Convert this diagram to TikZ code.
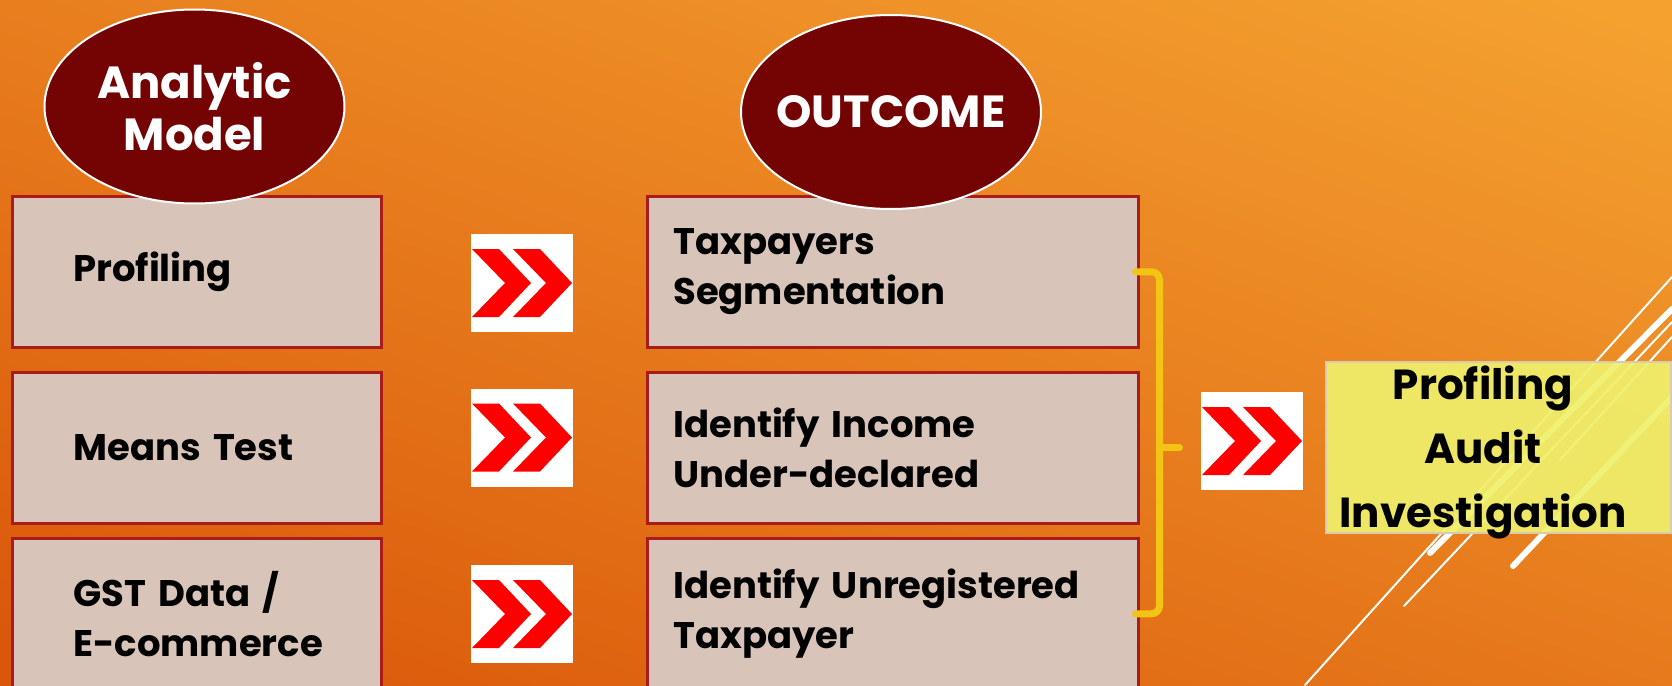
\documentclass[tikz,border=0pt]{standalone}
\usepackage{fontspec}
\setmainfont{Poppins}
\usetikzlibrary{shapes.geometric}
\usepackage{xcolor}
\definecolor{bgtop}{HTML}{F4A130}
\definecolor{bgbot}{HTML}{DA570A}
\definecolor{cellfill}{HTML}{D8C4B9}
\definecolor{cellline}{HTML}{A81C1C}
\definecolor{ovalfill}{HTML}{740404}
\definecolor{resfill}{HTML}{EFF06C}
\definecolor{resline}{HTML}{D8CBB0}
\definecolor{brackcol}{HTML}{F4C414}
\definecolor{chevred}{HTML}{FF0000}

\tikzset{
 cell/.style={rectangle, draw=cellline, line width=2.5pt, fill=cellfill, anchor=north west,
  minimum height=151pt, inner sep=0pt, align=left, font=\fontsize{37}{50}\selectfont\bfseries},
 modelcell/.style={cell, text width=369pt, execute at begin node={\leftskip=61pt}},
 outcell/.style={cell, text width=491pt, execute at begin node={\leftskip=26pt}},
 oval/.style={ellipse, fill=ovalfill, draw=white, line width=2pt, minimum width=300pt,
  minimum height=194pt, inner xsep=-14pt, inner ysep=0pt, text=white, align=center,
  font=\fontsize{45}{52}\selectfont\bfseries},
 chevsign/.style={rectangle, fill=white, minimum width=102pt, minimum height=98pt, inner sep=0pt,
  path picture={\fill[chevred, shift={(path picture bounding box.center)}]
   (-50,-34) -- (-23,-34) -- (9,0) -- (-23,34) -- (-50,34) -- (-17,0) -- cycle
   (-9,-34) -- (18,-34) -- (50,0) -- (18,34) -- (-9,34) -- (24,0) -- cycle;}},
 brack/.style={draw=brackcol, line width=7pt, line cap=round, rounded corners=8pt},
 deco/.style={white, line width=2pt, line cap=round},
 resbox/.style={fill=resfill, fill opacity=0.92, draw=resline, line width=2.5pt},
 restext/.style={align=center, inner sep=0pt, text depth=0pt, anchor=south, font=\fontsize{42}{64}\selectfont\bfseries}
}

\begin{document}
\begin{tikzpicture}[x=1pt, y=-1pt]
\useasboundingbox (0,0) rectangle (1672,685);
\clip (0,0) rectangle (1672,685);
\shade[top color=bgtop, bottom color=bgbot, shading angle=-20] (-100,-100) rectangle (1772,785);

\draw[deco] (1672,277) -- (1305,685);
\draw[deco, line width=6pt] (1672,309) -- (1430,553);
\draw[deco] (1672,322) -- (1404,606);
\draw[deco] (1672,337) -- (1560,460);
\draw[deco, line width=6pt] (1672,397) -- (1513,566);

\foreach \y/\cy/\mtext/\otext [count=\i] in {195/283/Profiling/{Taxpayers\\Segmentation},
  371/437.5/{Means Test}/{Identify Income\\Under-declared},
  537/614/{GST Data /\\E-commerce}/{Identify Unregistered\\Taxpayer}} {
 \node[modelcell] (m\i) at (11,\y) {\mtext};
 \node[outcell] (o\i) at (646,\y) {\otext};
 \node[chevsign] (c\i) at (522,\cy) {};
 }

\node[oval] (am) at (194.5,106.5) {Analytic\\Model};
\node[oval] (oc) at (891,112) {OUTCOME};

\draw[brack] ([xshift=-4pt]o1.east) -| ([xshift=20pt]o2.east) |- ([xshift=-4pt]o3.east);
\draw[brack] ([xshift=20pt]o2.east) -- ++(20,0);
\node[chevsign] (c4) at (1252,441) {};

\path[resbox] (1326,362) rectangle (1671,533);
\node[restext] (res) at (1483,528) {Profiling\\Audit\\Investigation};
\end{tikzpicture}
\end{document}
